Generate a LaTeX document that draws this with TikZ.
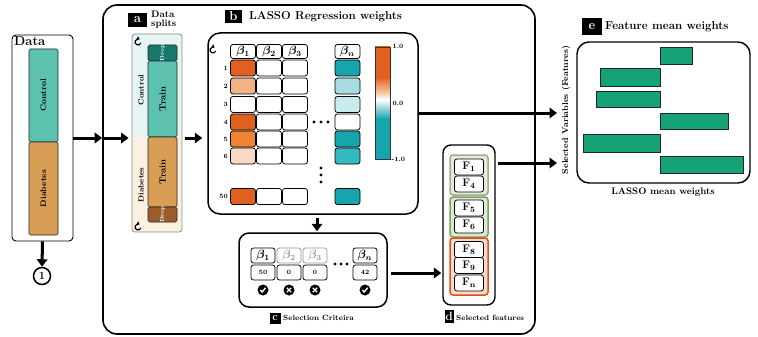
\documentclass[tikz,border=0pt]{standalone}
\usepackage{bm}
\usetikzlibrary{arrows.meta}

% palette
\definecolor{ctlC}{HTML}{5CC1AF}
\definecolor{diaC}{HTML}{D99E55}
\definecolor{ctlDrop}{HTML}{17796B}
\definecolor{diaDrop}{HTML}{9C5D2B}
\definecolor{ctlBg}{HTML}{E7F4F4}
\definecolor{diaBg}{HTML}{FBF1E2}
\definecolor{orangeC}{HTML}{E2601F}
\definecolor{peachC}{HTML}{F3B385}
\definecolor{orangeM}{HTML}{EE8434}
\definecolor{paleO}{HTML}{FAD9C3}
\definecolor{tealC}{HTML}{16A5AC}
\definecolor{tealL}{HTML}{A9DCE0}
\definecolor{tealLL}{HTML}{C9EBEE}
\definecolor{tealM}{HTML}{35B9C1}
\definecolor{barC}{HTML}{14A276}
\definecolor{grpA}{HTML}{E6E9DF}
\definecolor{grpAb}{HTML}{A3AA92}
\definecolor{grpB}{HTML}{DDE8D2}
\definecolor{grpBb}{HTML}{7FA264}
\definecolor{grpC}{HTML}{FADCCB}
\definecolor{grpCb}{HTML}{E0501E}

% diverging colour bar: teal (bottom) -> white -> orange (top)
\pgfdeclareverticalshading{cbarshade}{100bp}{color(0bp)=(tealC); color(25bp)=(tealC); color(43bp)=(tealC); color(51.5bp)=(white); color(56bp)=(peachC); color(61.5bp)=(orangeC); color(75bp)=(orangeC); color(100bp)=(orangeC)}

\newcommand{\fs}[1]{\fontsize{#1}{#1}\selectfont}

\begin{document}
\begin{tikzpicture}[x=1pt,y=-1pt,
  every node/.style={inner sep=0pt, font=\bfseries},
  bigbox/.style={draw, line width=1.6pt, rounded corners=14pt},
  panel/.style={draw, line width=1.5pt, rounded corners=10pt},
  bar/.style={draw=black!85, fill=#1, line width=0.7pt, rounded corners=1.5pt, minimum width=29pt},
  tag/.style={fill=black, text=white, font=\bfseries\fs{13}},
  cell/.style={draw, line width=0.8pt, rounded corners=2.5pt, minimum width=25pt, minimum height=16pt},
  hcell/.style={cell, minimum height=14pt, font=\bfseries\large},
  ccell/.style={draw, line width=0.8pt, rounded corners=2.5pt, minimum width=24pt, minimum height=15pt},
  fcell/.style={draw, fill=white, line width=0.8pt, rounded corners=2.5pt, minimum width=29pt, minimum height=16pt, font=\bfseries\fs{11}},
  grp/.style={draw=#1, line width=1.5pt, rounded corners=3pt, minimum width=38pt},
  small/.style={font=\bfseries\fs{6.5}},
  dotc/.style={fill=black, circle, minimum size=3.4pt},
  chk/.style={fill=black, circle, minimum size=11pt},
  arr/.style={line width=3pt, -{Triangle[length=7.5pt,width=10.5pt]}},
  refresh/.style={line width=1.1pt, -{Triangle[length=2.6pt,width=3.8pt]}},
  pbar/.style={draw=black!85, fill=barC, line width=0.9pt},
]
\useasboundingbox (0,0) rectangle (758,337);

% ---------------- raw data ----------------
\node[draw, line width=0.9pt, rounded corners=4pt, minimum width=61pt, minimum height=206pt] (data) at (42.5,138) {};
\node[anchor=north west, font=\bfseries\fs{13}] (datat) at (14,36) {Data};
\node[bar=ctlC, minimum height=93pt] (ctl) at (43.5,95.5) {};
\node[bar=diaC, minimum height=93pt] (dia) at (43.5,188.5) {};
\node[rotate=90, font=\bfseries\fs{8}] at (ctl) {Control};
\node[rotate=90, font=\bfseries\fs{8}] at (dia) {Diabetes};
\node[draw, circle, line width=1.5pt, minimum size=17pt, font=\bfseries\fs{11}] (one) at (42,276) {1};

% ---------------- main frame ----------------
\node[bigbox, minimum width=432pt, minimum height=329pt] (main) at (319,169.5) {};

% ---------------- (a) data splits ----------------
\node[draw=black!45, line width=0.8pt, rounded corners=3pt, minimum width=50pt, minimum height=198pt,
  path picture={
    \fill[diaBg] (path picture bounding box.south west) rectangle (path picture bounding box.north east);
    \fill[ctlBg] (path picture bounding box.north west) rectangle ([yshift=-4pt]path picture bounding box.east);
  }] (splits) at (157,133) {};
\node[tag, minimum width=19pt, minimum height=14pt] (taga) at (137.5,20) {a};
\node[anchor=west, align=left, font=\bfseries\fs{9.5}] (splitst) at (151,19.5) {Data\\splits};
\node[bar=ctlDrop, minimum height=16pt] (cdrop) at (162.5,53) {};
\node[bar=ctlC, minimum height=76pt] (ctrain) at (162.5,99) {};
\node[bar=diaC, minimum height=70pt] (dtrain) at (162.5,172) {};
\node[bar=diaDrop, minimum height=15pt] (ddrop) at (162.5,214.5) {};
\node[rotate=90, text=white, font=\bfseries\fs{5.5}] at (cdrop) {Drop};
\node[rotate=90, font=\bfseries\fs{9}] at (ctrain) {Train};
\node[rotate=90, font=\bfseries\fs{9}] at (dtrain) {Train};
\node[rotate=90, text=white, font=\bfseries\fs{5.5}] at (ddrop) {Drop};
\node[rotate=90, font=\bfseries\fs{7.5}] (ctlt) at (141,90) {Control};
\node[rotate=90, font=\bfseries\fs{7.5}] (diat) at (141,185) {Diabetes};
\coordinate (rf1) at (138,42);
\coordinate (rf2) at (138,227);
\foreach \c in {rf1,rf2}
  \draw[refresh] (\c) ++(-20:3pt) arc[start angle=-20, end angle=-300, radius=3pt];

% ---------------- (b) LASSO regression weights ----------------
\node[tag, minimum width=17pt, minimum height=13pt] (tagb) at (233.5,16.5) {b};
\node[anchor=west, font=\bfseries\fs{11.5}] (lassot) at (249,17) {LASSO Regression weights};
\node[panel, rounded corners=12pt, minimum width=210pt, minimum height=181pt] (lasso) at (313,123.5) {};
\coordinate (rf3) at (213,50);
\draw[refresh] (rf3) ++(-20:3pt) arc[start angle=-20, end angle=-300, radius=3pt];

\node[hcell] (hb1) at (243,51.5) {$\bm\beta_{\bm 1}$};
\node[hcell] (hb2) at (269,51.5) {$\bm\beta_{\bm 2}$};
\node[hcell] (hb3) at (295,51.5) {$\bm\beta_{\bm 3}$};
\node[hcell] (hbn) at (347.5,51.5) {$\bm\beta_{\bm n}$};

\foreach \y/\n/\ca/\cd in {68/1/orangeC/tealC, 86/2/peachC/tealL, 104.5/3/white/tealLL,
    122/4/orangeC/white, 139/5/orangeM/tealC, 156/6/paleO/tealM, 196.5/50/orangeC/tealC}{
  \node[small, anchor=east] (row\n) at (228,\y) {\n};
  \node[cell, fill=\ca] (w\n a) at (243,\y) {};
  \node[cell] (w\n b) at (269,\y) {};
  \node[cell] (w\n c) at (295,\y) {};
  \node[cell, fill=\cd] (w\n n) at (347.5,\y) {};
}
\foreach \x in {314,321,328} \node[dotc] at (\x,122) {};
\foreach \y in {168,175,182} \node[dotc] at (321,\y) {};

\node[draw=black!80, line width=0.8pt, minimum width=15pt, minimum height=112pt, shading=cbarshade, shade] (cbar) at (382.5,103) {};
\node[small, anchor=west] (cb1) at ([xshift=2pt]cbar.north east) {1.0};
\node[small, anchor=west] (cb0) at ([xshift=2pt]cbar.east) {0.0};
\node[small, anchor=west] (cbm) at ([xshift=1pt]cbar.south east) {-1.0};

% ---------------- (c) selection criteria ----------------
\node[panel, minimum width=148pt, minimum height=74pt] (crit) at (313,270) {};
\node[ccell, font=\bfseries\large] (sb1) at (263,255.5) {$\bm\beta_{\bm 1}$};
\node[ccell, draw=black!40, text=black!40, font=\bfseries\large] (sb2) at (289,255.5) {$\bm\beta_{\bm 2}$};
\node[ccell, draw=black!40, text=black!40, font=\bfseries\large] (sb3) at (315,255.5) {$\bm\beta_{\bm 3}$};
\node[ccell, font=\bfseries\large] (sbn) at (365,255.5) {$\bm\beta_{\bm n}$};
\node[ccell, small] (v1) at (263,272.5) {50};
\node[ccell, small] (v2) at (289,272.5) {0};
\node[ccell, small] (v3) at (315,272.5) {0};
\node[ccell, small] (vn) at (365,272.5) {42};
\foreach \x in {335,341,347} \node[dotc] at (\x,264) {};
\foreach \k/\x in {k1/263,kn/365} {
  \node[chk] (\k) at (\x,290) {};
  \draw[white, line width=1.4pt] (\k) ++(-2.6,0) -- ++(1.8,2) -- ++(3.4,-4.2);
}
\foreach \k/\x in {k2/289,k3/315} {
  \node[chk] (\k) at (\x,290) {};
  \draw[white, line width=1.4pt] (\k) ++(-2.2,-2.2) -- ++(4.4,4.4) (\k) ++(2.2,-2.2) -- ++(-4.4,4.4);
}
\node[tag, minimum width=11pt, minimum height=11pt, font=\bfseries\fs{11}] (tagc) at (275,318) {c};
\node[anchor=west, font=\bfseries\fs{7.5}] (critt) at (283,318) {Selection Criteira};

% ---------------- (d) selected features ----------------
\node[panel, line width=1.4pt, rounded corners=8pt, minimum width=52pt, minimum height=160pt] (feats) at (469,225) {};
\node[grp=grpAb, fill=grpA, minimum height=40pt] (g1) at (469,175) {};
\node[grp=grpBb, fill=grpB, minimum height=40pt] (g2) at (469,217) {};
\node[grp=grpCb, fill=grpC, minimum height=57pt] (g3) at (469,266.5) {};
\node[fcell] (f1) at (469,167) {F$_{\mathbf 1}$};
\node[fcell] (f4) at (469,184) {F$_{\mathbf 4}$};
\node[fcell] (f5) at (469,208) {F$_{\mathbf 5}$};
\node[fcell] (f6) at (469,225) {F$_{\mathbf 6}$};
\node[fcell] (f8) at (469,249.5) {F$_{\mathbf 8}$};
\node[fcell] (f9) at (469,265.5) {F$_{\mathbf 9}$};
\node[fcell] (fn) at (469,283) {F$_{\mathbf n}$};
\node[tag, minimum width=9pt, minimum height=13pt, font=\bfseries\fs{12}] (tagd) at (449,316.5) {d};
\node[anchor=west, font=\bfseries\fs{7.5}] (featst) at (456,318) {Selected features};

% ---------------- (e) feature mean weights ----------------
\node[tag, minimum width=20pt, minimum height=17pt] (tage) at (592,26.5) {e};
\node[anchor=west, font=\bfseries\fs{11.5}] (plott) at (605,27) {Feature mean weights};
\node[draw, line width=1.4pt, rounded corners=12pt, minimum width=173pt, minimum height=141pt] (plot) at (663.5,112.5) {};
\node[rotate=90, font=\bfseries\fs{8.5}] (ylab) at (566,110) {Selected Variables (Features)};
\node[font=\bfseries\fs{9.5}] (xlab) at (663,192) {LASSO mean weights};
\draw[pbar] (660,47) rectangle (692,64);
\draw[pbar] (600,68) rectangle (660,86);
\draw[pbar] (596,91) rectangle (660,107);
\draw[pbar] (660,113) rectangle (728,129);
\draw[pbar] (583,134) rectangle (660,152);
\draw[pbar] (660,156) rectangle (743,173);

% ---------------- connectors ----------------
\coordinate (t1) at (557,113);
\coordinate (t2) at (557,163);
\coordinate (t3) at (0,273);
\coordinate (t4) at (317,0);
\draw[arr] (data.south) -- (one.north);
\draw[arr] (data.east) -- (main.west |- data.east);
\draw[arr, shorten >=3pt] (main.west |- data.east) -- (splits.west |- data.east);
\draw[arr, shorten <=3pt, shorten >=5pt] (splits.east |- data.east) -- (lasso.west |- data.east);
\draw[arr, shorten <=3pt, shorten >=1pt] (lasso.south -| t4) -- (crit.north -| t4);
\draw[arr, shorten <=3pt, shorten >=1pt] (crit.east |- t3) -- (feats.west |- t3);
\draw[arr] (lasso.east |- t1) -- (t1);
\draw[arr, shorten <=2pt] (feats.east |- t2) -- (t2);
\end{tikzpicture}
\end{document}
